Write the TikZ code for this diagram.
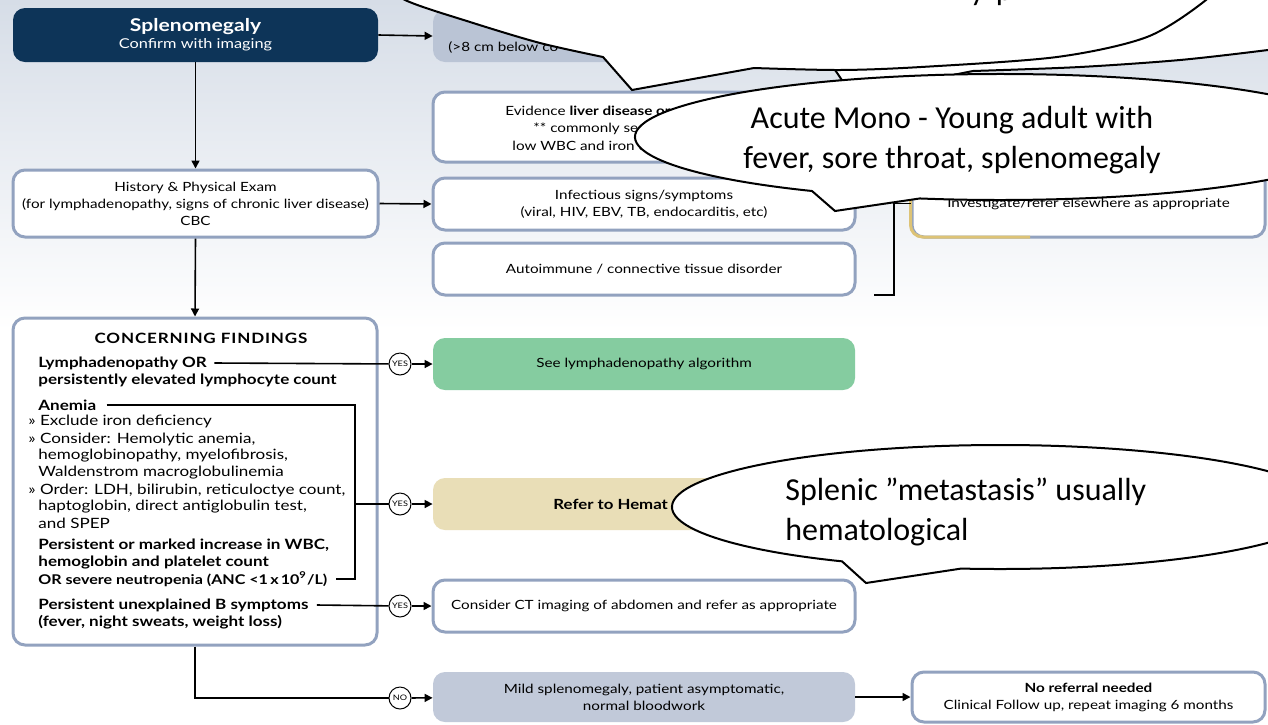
\documentclass[tikz,border=0pt]{standalone}
\usepackage{fontspec}
\setmainfont{Lato}[FakeStretch=1.2]
\newfontfamily\calib{Carlito}
\usetikzlibrary{arrows.meta}
\definecolor{navy}{RGB}{13,52,88}
\definecolor{bord}{RGB}{146,162,191}
\definecolor{greyfill}{RGB}{186,196,213}
\definecolor{greenfill}{RGB}{133,204,160}
\definecolor{tanfill}{RGB}{233,222,183}
\definecolor{mildfill}{RGB}{193,201,217}
\definecolor{yel}{RGB}{221,195,118}
\definecolor{bgtop}{RGB}{214,221,231}
\newcommand\fsB{\fontsize{6.35}{8.5}\selectfont}
\newcommand\fsC{\fontsize{7.1}{8.6}\selectfont}
\begin{document}
\begin{tikzpicture}[x=0.5pt,y=-0.5pt,
  box/.style={draw=bord, line width=1.5pt, rounded corners=6pt, fill=white, align=center, inner sep=0pt, font=\fsB},
  flat/.style={rounded corners=6pt, align=center, inner sep=0pt, font=\fsB},
  tx/.style={inner sep=0pt, font=\fsC, anchor=west},
  arr/.style={-{Triangle[length=4pt,width=4pt]}, line width=0.8pt},
  conn/.style={line width=0.8pt},
  yn/.style={circle, draw, line width=0.5pt, fill=white, minimum size=11pt, inner sep=0pt, font=\fontsize{3.8}{4}\selectfont},
  callout/.style={draw=black, line width=1pt, fill=white, line join=miter},
  ctxt/.style={font=\calib\fontsize{16}{20}\selectfont, inner sep=0pt}]
\useasboundingbox (0,0) rectangle (1268,724);
\fill[white] (0,0) rectangle (1268,724);
\shade[top color=bgtop, bottom color=white] (0,0) rectangle (1268,330);

% left column
\node[flat, fill=navy, text=white, minimum width=182.5pt, minimum height=27pt] (spl) at (195.5,35)
  {{\fontsize{8.8}{8.5}\selectfont\bfseries Splenomegaly}\\{\fontsize{6.8}{8.5}\selectfont Confirm with imaging}};
\node[box, minimum width=182.5pt, minimum height=33.5pt] (hpe) at (195.5,203.5)
  {History \& Physical Exam\\(for lymphadenopathy, signs of chronic liver disease)\\CBC};
\node[box, minimum width=182pt, minimum height=163.5pt] (cf) at (195,481.5) {};

\node[inner sep=0pt, font=\fsC\bfseries\addfontfeature{LetterSpace=6}] (conc) at (201,338) {CONCERNING FINDINGS};
\node[tx] (ly1) at (38,363) {\bfseries Lymphadenopathy OR};
\node[tx] (ly2) at (38,380) {\bfseries persistently elevated lymphocyte count};
\node[tx] (an) at (38,405) {\bfseries Anemia};
\node[tx] (an1) at (28,421) {» Exclude iron deficiency};
\node[tx] (an2) at (28,439) {» Consider: Hemolytic anemia,};
\node[tx] (an3) at (38,456) {hemoglobinopathy, myelofibrosis,};
\node[tx] (an4) at (38,473) {Waldenstrom macroglobulinemia};
\node[tx] (an5) at (28,490) {» Order: LDH, bilirubin, reticuloctye count,};
\node[tx] (an6) at (38,507) {haptoglobin, direct antiglobulin test,};
\node[tx] (an7) at (38,523) {and SPEP};
\node[tx] (wb1) at (38,545) {\bfseries Persistent or marked increase in WBC,};
\node[tx] (wb2) at (38,562) {\bfseries hemoglobin and platelet count};
\node[tx, font=\fontsize{6.7}{8.6}\selectfont] (neu) at (38,579) {\bfseries OR severe neutropenia (ANC <1\,x\,10\textsuperscript{9}/L)};
\node[tx] (bs) at (38,605) {\bfseries Persistent unexplained B symptoms};
\node[tx] (bs2) at (38,622) {\bfseries (fever, night sweats, weight loss)};

% middle column
\node[flat, fill=greyfill, minimum width=211pt, minimum height=26pt] (mass) at (644,36) {};
\node[tx, font=\fsB] (masst) at (448,48) {(>8 cm below co};
\node[box, minimum width=211pt, minimum height=35pt] (liver) at (644,127) {};
\node[tx, font=\fsB] (lv1) at (505,112) {Evidence \textbf{liver disease or p}};
\node[tx, font=\fsB] (lv2) at (533,129) {** commonly see t};
\node[tx, font=\fsB] (lv3) at (512,146) {low WBC and iron de};
\node[box, minimum width=211pt, minimum height=26pt] (inf) at (644,204)
  {Infectious signs/symptoms\\(viral, HIV, EBV, TB, endocarditis, etc)};
\node[box, minimum width=211pt, minimum height=26pt] (auto) at (644,269)
  {Autoimmune / connective tissue disorder};
\node[box, minimum width=176.5pt, minimum height=33.5pt] (inv) at (1088.5,203.5)
  {Investigate/refer elsewhere as appropriate};
\coordinate (yelend) at (1030,237);
\draw[yel, line width=1.5pt, rounded corners=6pt] (inv.north west) |- (yelend);

\node[flat, fill=greenfill, minimum width=211pt, minimum height=26pt] (lymph) at (644,364) {See lymphadenopathy algorithm};
\node[flat, fill=tanfill, minimum width=211pt, minimum height=26pt] (hema) at (644,504) {};
\node[tx, font=\fontsize{7}{8.5}\selectfont\bfseries] (hemat) at (553,504) {Refer to Hemat};
\node[box, minimum width=211pt, minimum height=26pt] (ct) at (644,606) {Consider CT imaging of abdomen and refer as appropriate};
\node[flat, fill=mildfill, minimum width=211pt, minimum height=25pt] (mild) at (644,697)
  {Mild splenomegaly, patient asymptomatic,\\normal bloodwork};
\node[box, minimum width=176.5pt, minimum height=25pt] (noref) at (1088.5,697)
  {\textbf{No referral needed}\\Clinical Follow up, repeat imaging 6 months};

% connectors
\draw[arr] (spl.east) -- (mass.west);
\draw[arr] (spl.south) -- (hpe.north);
\draw[arr] (hpe.south) -- (cf.north);
\draw[arr] (hpe.east) -- (inf.west);
\coordinate (bk1) at (874,295);
\coordinate (bk2) at (894,295);
\draw[conn] (bk1) -- (bk2) |- (inv.west);

\node[yn] (y1) at (400,364) {YES};
\node[yn] (y2) at (400,504) {YES};
\node[yn] (y3) at (400,606) {YES};
\node[yn] (no) at (400,698) {NO};
\coordinate (bus) at (355,504);
\draw[conn] ([xshift=3.5pt]ly1.east) -- (y1);
\draw[arr] (y1) -- (lymph);
\draw[conn] ([xshift=5pt]an.east) -| (bus) |- ([xshift=4pt]neu.east);
\draw[conn] (bus) -- (y2);
\draw[arr] (y2) -- (hema);
\draw[conn] ([xshift=4pt]bs.east) -- (y3);
\draw[arr] (y3) -- (ct);
\draw[conn] (cf.south) |- (no);
\draw[arr] (no) -- (mild);
\draw[arr] (mild.east) -- (noref.west);

% callouts
\filldraw[callout] (700,-60) -- (700,50) -- (829,61) -- (852,95) -- (973,71)
  -- plot[smooth] coordinates {(973,71) (1080,67) (1180,60) (1268,50) (1300,45)} -- (1300,-60) -- cycle;
\filldraw[callout] plot[smooth] coordinates {(370,-25) (405,0) (470,22) (540,43) (603,57)} -- (632,90)
  -- plot[smooth] coordinates {(754,68) (840,70) (921,67) (1057,57) (1147,37) (1206,0) (1225,-25)}
  -- (1225,-60) -- (370,-60) -- cycle;
\node[ctxt, anchor=base west] (topt) at (970,0) {y\hspace{5.5pt}p};
\filldraw[callout] ([shift={(1000,137)}]121.0:365 and 63) arc[start angle=121.0, end angle=462.7, x radius=365, y radius=63] -- (835,211) -- cycle;
\node[ctxt, align=center] (mono) at (952,140) {Acute Mono - Young adult with\\fever, sore throat, splenomegaly};
\filldraw[callout] ([shift={(1000,507)}]118.8:328 and 62) arc[start angle=118.8, end angle=456.8, x radius=328, y radius=62] -- (866,583) -- cycle;
\node[ctxt, align=left, anchor=west] (meta) at (785,512) {Splenic ”metastasis” usually\\hematological};
\end{tikzpicture}
\end{document}
